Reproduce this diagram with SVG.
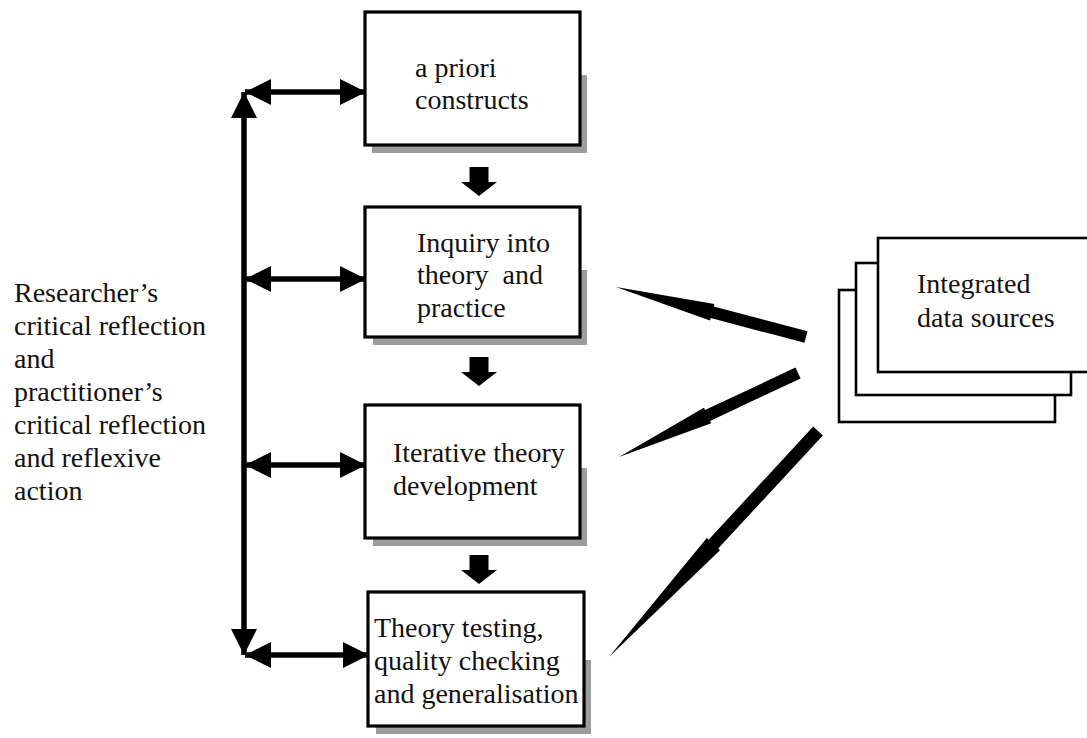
<svg xmlns="http://www.w3.org/2000/svg" width="1087" height="738" viewBox="0 0 1087 738">
  <style>
    text { font-family: "Liberation Serif", "Times New Roman", serif; font-size: 28px; fill: #111111; }
    .box { fill: #ffffff; stroke: #000000; stroke-width: 3.2; }
    .stack { fill: #ffffff; stroke: #000000; stroke-width: 2.6; }
    .shadow { fill: #9c9c9c; }
    .line { stroke: #000000; stroke-width: 5.5; fill: none; }
    .solid { fill: #000000; }
  </style>
  <defs>
    <marker id="head" viewBox="0 0 10 10" refX="10" refY="5" markerWidth="4.8" markerHeight="4.8" orient="auto-start-reverse" markerUnits="strokeWidth">
      <path d="M0,0 L10,5 L0,10 z" fill="#000000"/>
    </marker>
    <path id="down" d="M-9.5,0 H9.5 V15 H18 L0,29 L-18,15 H-9.5 z" fill="#000000"/>
  </defs>

  <rect width="1087" height="738" fill="#ffffff"/>

  <!-- reflection label -->
  <g id="reflection">
    <text x="14" y="302">Researcher’s</text>
    <text x="14" y="335">critical reflection</text>
    <text x="14" y="368">and</text>
    <text x="14" y="401">practitioner’s</text>
    <text x="14" y="434">critical reflection</text>
    <text x="14" y="467">and reflexive</text>
    <text x="14" y="500">action</text>
  </g>

  <!-- stages -->
  <g id="apriori">
    <rect class="shadow" x="580" y="75" width="7" height="78"/>
    <rect class="shadow" x="372" y="145" width="215" height="8"/>
    <rect class="box" x="365" y="12" width="215" height="133"/>
    <text x="415" y="77">a priori</text>
    <text x="415" y="109">constructs</text>
  </g>

  <g id="inquiry">
    <rect class="shadow" x="580" y="270" width="7" height="75"/>
    <rect class="shadow" x="373" y="337" width="214" height="8"/>
    <rect class="box" x="365" y="207" width="215" height="130"/>
    <text x="417" y="252">Inquiry into</text>
    <text x="417" y="284" xml:space="preserve">theory  and</text>
    <text x="417" y="317">practice</text>
  </g>

  <g id="iterative">
    <rect class="shadow" x="580" y="468" width="7" height="78"/>
    <rect class="shadow" x="373" y="538" width="214" height="8"/>
    <rect class="box" x="365" y="405" width="215" height="133"/>
    <text x="393" y="462">Iterative theory</text>
    <text x="393" y="495">development</text>
  </g>

  <g id="testing">
    <rect class="shadow" x="584" y="660" width="7" height="74"/>
    <rect class="shadow" x="376" y="726" width="215" height="8"/>
    <rect class="box" x="368" y="592" width="216" height="134"/>
    <text x="374" y="637">Theory testing,</text>
    <text x="374" y="670">quality checking</text>
    <text x="374" y="703">and generalisation</text>
  </g>

  <!-- data sources stack -->
  <g id="sources">
    <rect class="stack" x="839" y="290" width="216" height="132"/>
    <rect class="stack" x="856" y="263" width="215" height="132"/>
    <rect class="stack" x="878" y="238" width="215" height="134"/>
    <text x="917" y="293">Integrated</text>
    <text x="917" y="327">data sources</text>
  </g>

  <g id="connectors">
    <!-- reflection spine -->
    <line class="line" x1="244" y1="92" x2="244" y2="655" marker-start="url(#head)" marker-end="url(#head)"/>
    <!-- two-way links to each stage -->
    <line class="line" x1="245" y1="92" x2="366" y2="92" marker-start="url(#head)" marker-end="url(#head)"/>
    <line class="line" x1="245" y1="279" x2="366" y2="279" marker-start="url(#head)" marker-end="url(#head)"/>
    <line class="line" x1="245" y1="465" x2="366" y2="465" marker-start="url(#head)" marker-end="url(#head)"/>
    <line class="line" x1="245" y1="655" x2="369" y2="655" marker-start="url(#head)" marker-end="url(#head)"/>
    <!-- flow between stages -->
    <use href="#down" x="479" y="167"/>
    <use href="#down" x="479" y="357"/>
    <use href="#down" x="479" y="555"/>
    <!-- data feeds -->
    <polygon class="solid" points="807.5,331.2 713.7,306.5 714.4,304.1 616,287 710.0,320.5 710.7,318.1 804.5,342.8"/>
    <polygon class="solid" points="795.5,367.6 705.0,410.1 703.9,407.8 619,457 711.1,423.2 710.1,420.9 800.6,378.4"/>
    <polygon class="solid" points="813.2,426.6 708.6,539.7 706.8,538.0 609,657 720.0,550.2 718.2,548.5 822.8,435.4"/>
  </g>
</svg>
